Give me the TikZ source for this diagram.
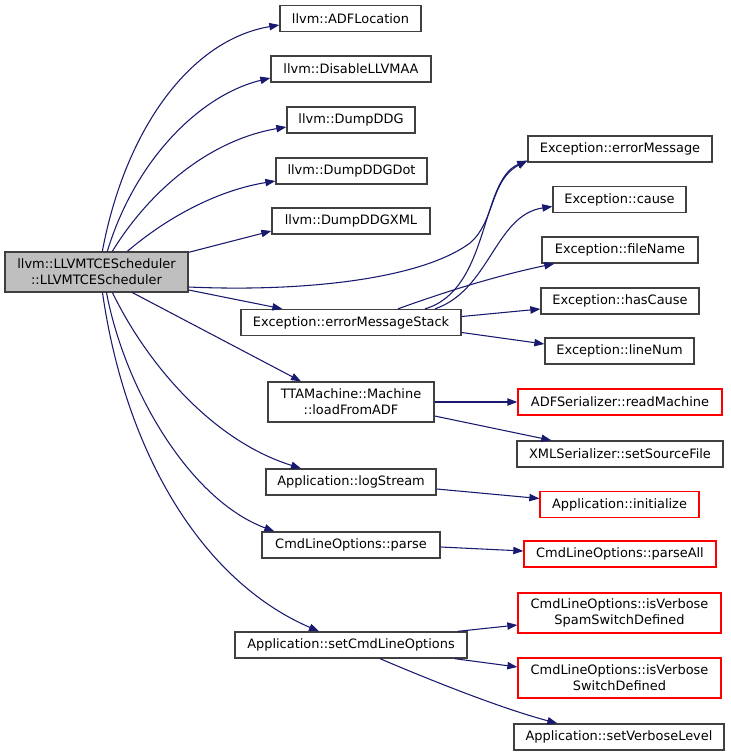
\documentclass[tikz,border=0pt]{standalone}
\usepackage{fontspec}
\setmainfont{DejaVu Sans}
\usetikzlibrary{arrows.meta,calc}
\definecolor{edgeblue}{RGB}{25,25,112}
\definecolor{boxgrey}{RGB}{64,64,64}
\definecolor{rootfill}{RGB}{191,191,191}
\begin{document}
\begin{tikzpicture}[x=0.75pt,y=-0.75pt,
  fn/.style={draw=boxgrey,line width=1pt,fill=white,inner sep=0pt,align=center,
    font=\fontsize{9.7}{12}\selectfont},
  sz/.style 2 args={minimum width=#1*0.75pt,minimum height=#2*0.75pt},
  undoc/.style={fn,draw=red},
  rootbox/.style={fn,fill=rootfill},
  edge/.style={draw=edgeblue,line width=0.8pt,-{Triangle[length=7.5pt,width=5.5pt]},fill=none}]
\useasboundingbox[fill=white] (0,0) rectangle (731,756);
% nodes
\node[rootbox,sz={183}{40}] (root) at (96.5,272) {llvm::LLVMTCEScheduler\\::LLVMTCEScheduler};
\node[fn,sz={141}{26}] (adf) at (350.5,18.5) {llvm::ADFLocation};
\node[fn,sz={160}{26}] (dis) at (351,69) {llvm::DisableLLVMAA};
\node[fn,sz={128}{26}] (ddg) at (351,120) {llvm::DumpDDG};
\node[fn,sz={151}{26}] (dot) at (351.5,171) {llvm::DumpDDGDot};
\node[fn,sz={158}{26}] (xml) at (351,221) {llvm::DumpDDGXML};
\node[fn,sz={220}{26}] (ems) at (351,322.5) {Exception::errorMessageStack};
\node[fn,sz={166}{40}] (tta) at (351,402) {TTAMachine::Machine\\::loadFromADF};
\node[fn,sz={170}{26}] (log) at (351,482) {Application::logStream};
\node[fn,sz={178}{26}] (parse) at (351,545) {CmdLineOptions::parse};
\node[fn,sz={232}{26}] (set) at (351,645) {Application::setCmdLineOptions};
\node[fn,sz={184}{26}] (emsg) at (620,149) {Exception::errorMessage};
\node[fn,sz={133}{26}] (cause) at (619.5,199.5) {Exception::cause};
\node[fn,sz={156}{26}] (fname) at (620,250) {Exception::fileName};
\node[fn,sz={158}{26}] (hcause) at (620,301) {Exception::hasCause};
\node[fn,sz={149}{26}] (lnum) at (619.5,351) {Exception::lineNum};
\node[undoc,sz={204}{26}] (read) at (620,402) {ADFSerializer::readMachine};
\node[fn,sz={206}{26}] (src) at (620,454) {XMLSerializer::setSourceFile};
\node[undoc,sz={159}{26}] (init) at (619.5,504.5) {Application::initialize};
\node[undoc,sz={192}{26}] (pall) at (620,554) {CmdLineOptions::parseAll};
\node[undoc,sz={203}{40}] (spam) at (619.5,613) {CmdLineOptions::isVerbose\\SpamSwitchDefined};
\node[undoc,sz={203}{40}] (sw) at (619.5,678) {CmdLineOptions::isVerbose\\SwitchDefined};
\node[fn,sz={210}{26}] (vl) at (619,737) {Application::setVerboseLevel};
% edges from root
\draw[edge] ($(root.north west)+(98,0)$) .. controls (125,130) and (190,40) .. ($(adf.west)+(0,6.5)$);
\draw[edge] ($(root.north west)+(103,0)$) .. controls (135,160) and (200,95) .. ($(dis.west)+(0,9)$);
\draw[edge] ($(root.north west)+(108,0)$) .. controls (150,190) and (210,140) .. ($(ddg.west)+(0,7)$);
\draw[edge] ($(root.north west)+(123,0)$) .. controls (170,215) and (220,190) .. ($(dot.west)+(0,10)$);
\draw[edge] ($(root.north east)+(0,1)$) -- ($(xml.west)+(0,10)$);
\draw[edge] ($(root.east)+(0,15)$) .. controls (300,292) and (420,280) .. (470,243)
  .. controls (495,222) and (490,180) .. ($(emsg.south west)+(0,-2)$);
\draw[edge] ($(root.east)+(0,18)$) -- ($(ems.north west)+(42,0)$);
\draw[edge] ($(root.south)+(36,0)$) -- ($(tta.north)+(-50,0)$);
\draw[edge] ($(root.south)+(16,0)$) .. controls (145,360) and (210,440) .. ($(log.north)+(-50,0)$);
\draw[edge] ($(root.south)+(10,0)$) .. controls (125,390) and (190,500) .. ($(parse.north west)+(13,0)$);
\draw[edge] ($(root.south)+(6,0)$) .. controls (125,450) and (200,580) .. ($(set.north)+(-32,0)$);
% edges from errorMessageStack
\draw[edge] ($(ems.north)+(74,0)$) .. controls (490,290) and (480,180) .. ($(emsg.south west)+(0,-2)$);
\draw[edge] ($(ems.north)+(84,0)$) .. controls (490,290) and (495,215) .. ($(cause.west)+(0,7)$);
\draw[edge] ($(ems.north)+(47,0)$) .. controls (450,290) and (500,275) .. ($(fname.south west)+(13,0)$);
\draw[edge] ($(ems.east)+(0,-6)$) -- ($(hcause.west)+(0,8)$);
\draw[edge] ($(ems.east)+(0,10)$) -- ($(lnum.west)+(0,-7)$);
% edges from loadFromADF
\draw[edge] (tta.east) -- (read.west);
\draw[edge] ($(tta.east)+(0,14)$) -- ($(src.north west)+(35,0)$);
% others
\draw[edge] ($(log.east)+(0,7)$) -- ($(init.west)+(0,-6)$);
\draw[edge] ($(parse.east)+(0,2)$) -- ($(pall.west)+(0,-3)$);
\draw[edge] ($(set.north east)+(-10,0)$) -- ($(spam.west)+(0,12)$);
\draw[edge] ($(set.south east)+(-13,0)$) -- ($(sw.west)+(0,-11)$);
\draw[edge] ($(set.south)+(29,0)$) .. controls (430,680) and (500,708) .. ($(vl.north west)+(44,0)$);
\end{tikzpicture}
\end{document}
